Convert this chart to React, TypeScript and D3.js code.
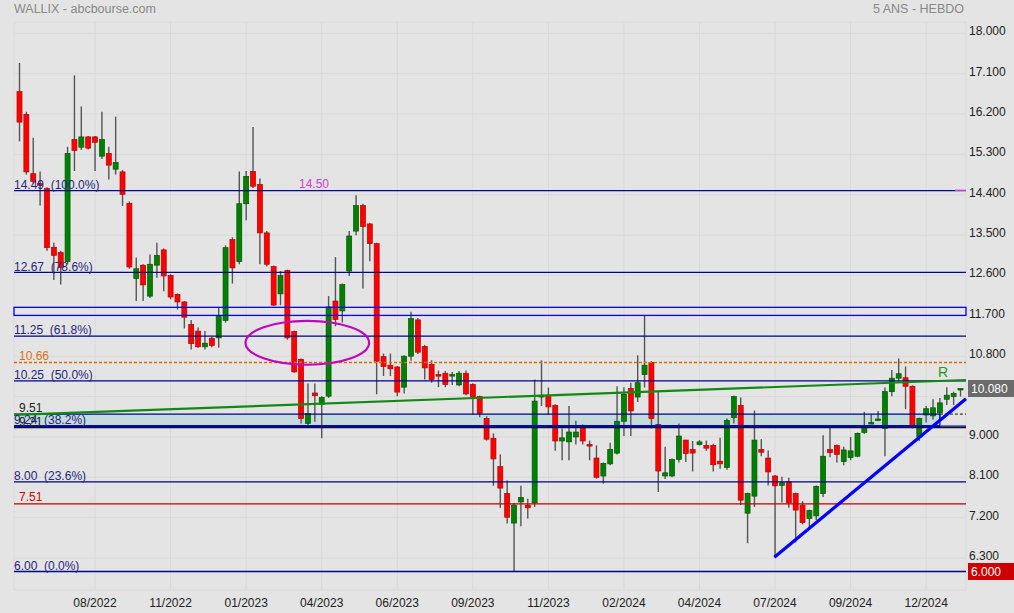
import React from 'react';
import * as d3 from 'd3';

const W = 1014;
const H = 613;

// weekly candles, mid-2022 -> end 2024
const opens = [
  16.70, 16.19, 14.87, 14.65, 14.54, 13.23, 13.11, 12.91, 15.63, 15.46,
  15.69, 15.69, 15.26, 15.32, 14.97, 14.91, 14.21, 12.53, 12.83, 12.14,
  12.83, 13.17, 12.60, 12.18, 12.01, 11.51, 11.36, 11.01, 11.20, 11.21,
  11.60, 13.40, 12.91, 14.20, 14.92, 14.63, 13.55, 12.80, 12.19, 12.71,
  11.35, 10.73, 9.30, 9.98, 9.73, 9.91, 12.03, 11.81, 12.70, 13.59,
  14.16, 13.75, 13.31, 10.79, 10.60, 10.56, 10.11, 10.80, 11.61, 11.02,
  10.62, 10.39, 10.42, 10.37, 10.16, 10.42, 10.17, 9.90, 9.41, 8.97,
  8.34, 7.74, 7.08, 7.55, 7.48, 7.53, 9.89, 9.90, 9.70, 8.91,
  8.89, 9.00, 9.26, 8.83, 8.53, 8.13, 8.40, 8.64, 9.35, 10.08,
  9.89, 10.39, 10.66, 9.28, 8.13, 8.13, 8.50, 8.93, 8.72, 8.83,
  8.81, 8.81, 8.46, 8.32, 9.43, 9.70, 7.30, 7.68, 8.72, 8.53,
  8.13, 7.92, 8.00, 7.74, 7.48, 7.18, 7.24, 7.74, 8.72, 8.81,
  8.45, 8.54, 8.57, 9.10, 9.31, 9.39, 9.19, 10.01, 10.31, 10.32,
  10.13, 9.00, 9.49, 9.47, 9.54, 9.84, 9.90, 10.05,
];
const highs = [
  17.34, 16.25, 15.67, 14.92, 14.57, 13.33, 13.15, 15.47, 17.06, 16.37,
  15.71, 15.71, 16.25, 15.47, 16.14, 14.95, 14.25, 13.00, 12.85, 13.07,
  13.33, 13.20, 12.63, 12.20, 12.03, 11.61, 11.44, 11.36, 11.23, 11.88,
  13.27, 13.45, 14.92, 14.93, 15.91, 14.76, 13.59, 12.82, 12.70, 12.73,
  11.37, 10.75, 10.19, 10.19, 9.91, 12.14, 13.01, 12.42, 13.59, 14.39,
  14.20, 13.77, 13.33, 10.86, 10.86, 10.58, 10.82, 11.79, 11.65, 11.05,
  10.71, 10.48, 10.47, 10.45, 10.47, 10.48, 10.20, 9.92, 9.46, 9.08,
  8.61, 8.03, 7.52, 7.91, 7.62, 10.28, 10.71, 10.10, 9.73, 9.19,
  9.69, 9.36, 9.28, 8.92, 8.81, 8.43, 8.87, 10.13, 10.11, 10.21,
  10.82, 11.71, 10.69, 10.02, 8.78, 8.52, 9.30, 8.94, 8.91, 8.93,
  8.92, 8.85, 8.98, 9.41, 9.92, 9.88, 7.76, 9.59, 8.95, 8.70,
  8.15, 8.11, 8.09, 7.76, 7.57, 7.38, 7.92, 9.04, 9.26, 8.83,
  8.78, 9.00, 9.10, 9.56, 9.50, 9.58, 10.10, 10.49, 10.75, 10.57,
  10.15, 9.43, 9.69, 9.84, 9.87, 10.11, 10.01, 10.08,
];
const lows = [
  15.59, 14.85, 14.65, 14.16, 13.15, 12.50, 12.40, 12.85, 14.93, 15.40,
  15.41, 14.93, 15.20, 14.74, 14.85, 14.15, 12.75, 12.03, 12.03, 12.10,
  12.55, 12.25, 12.07, 11.84, 11.42, 10.95, 10.99, 10.95, 11.00, 10.99,
  11.55, 12.42, 12.85, 13.83, 14.55, 12.85, 12.80, 11.92, 11.94, 11.17,
  10.43, 9.30, 9.25, 9.34, 8.97, 9.87, 11.47, 11.55, 12.59, 13.50,
  12.31, 12.92, 9.95, 10.36, 10.36, 9.91, 9.97, 10.70, 10.85, 10.28,
  10.21, 10.11, 10.11, 10.16, 10.13, 9.93, 9.50, 9.44, 8.92, 7.91,
  7.42, 7.07, 6.00, 7.01, 7.18, 7.44, 9.69, 9.49, 8.69, 8.48,
  8.48, 8.83, 8.83, 8.48, 8.07, 7.96, 8.37, 8.61, 9.02, 9.02,
  9.78, 10.10, 9.19, 7.77, 8.06, 8.10, 8.43, 8.44, 8.23, 8.81,
  8.69, 8.23, 8.29, 8.27, 9.30, 7.48, 6.63, 7.44, 8.57, 7.92,
  6.32, 7.54, 7.42, 6.65, 7.05, 6.94, 7.15, 7.66, 8.55, 8.43,
  8.37, 8.48, 8.55, 9.07, 9.30, 9.38, 8.57, 9.91, 10.23, 9.62,
  9.19, 8.91, 9.32, 9.39, 9.35, 9.71, 9.71, 9.90,
];
const closes = [
  16.02, 14.91, 14.70, 14.61, 13.22, 13.05, 12.78, 15.32, 15.39, 15.69,
  15.44, 15.57, 15.63, 15.06, 15.12, 14.41, 12.79, 12.75, 12.39, 12.85,
  13.05, 12.59, 12.12, 12.01, 11.67, 11.08, 11.01, 11.09, 11.04, 11.71,
  13.22, 12.77, 14.20, 14.81, 14.59, 13.55, 12.85, 11.94, 12.60, 11.21,
  10.45, 9.41, 9.52, 9.92, 9.88, 11.90, 11.62, 12.40, 13.48, 14.16,
  13.69, 13.31, 10.69, 10.57, 10.52, 10.00, 10.80, 11.64, 10.89, 10.54,
  10.28, 10.36, 10.17, 10.39, 10.42, 9.96, 9.89, 9.53, 8.95, 8.51,
  7.86, 7.21, 7.48, 7.65, 7.42, 9.80, 9.93, 9.67, 8.91, 8.98,
  9.11, 9.11, 8.91, 8.80, 8.10, 8.41, 8.72, 9.35, 9.95, 9.58,
  10.21, 10.60, 9.41, 8.24, 8.20, 8.50, 9.02, 8.63, 8.64, 8.89,
  8.75, 8.38, 8.40, 9.37, 9.90, 7.59, 7.74, 8.93, 8.66, 8.22,
  7.91, 7.98, 7.53, 7.37, 7.09, 7.36, 7.90, 8.57, 8.65, 8.61,
  8.71, 8.69, 9.08, 9.22, 9.32, 9.40, 10.01, 10.31, 10.41, 10.13,
  9.21, 9.41, 9.63, 9.65, 9.76, 9.93, 9.97, 10.08,
];

const xTickIndex = [11, 22, 33, 44, 55, 66, 77, 88, 99, 110, 121, 132];
const xTickLabels = ['08/2022', '11/2022', '01/2023', '04/2023', '06/2023', '09/2023',
  '11/2023', '02/2024', '04/2024', '07/2024', '09/2024', '12/2024'];
const yTicks = [18, 17.1, 16.2, 15.3, 14.4, 13.5, 12.6, 11.7, 10.8, 9.9, 9.0, 8.1, 7.2, 6.3];

const fibLevels = [14.49, 12.67, 11.25, 10.25, 9.24, 8.0, 6.0];
const fibPcts = ['100.0%', '78.6%', '61.8%', '50.0%', '38.2%', '23.6%', '0.0%'];

const zoneTop = 9.51;
const zoneBottom = 9.24;
const zoneEnd = 134.0;
const supportLow = 9.21;
const orangeLevel = 10.66;
const redLevel = 7.51;
const blueBand = [11.71, 11.89];
const magentaLevel = 14.5;
const greenTrend = [[-0.8, 9.49], [137.8, 10.27]];
const blueTrend = [[109.9, 6.32], [137.8, 9.85]];
const ellipseCenter = [41.9, 11.1];
const ellipseRadius = [9.0, 0.49];
const lastPrice = 10.08;
const lowPrice = 6.0;

const FONT = '"Liberation Sans", Arial, Helvetica, sans-serif';
const NAVY = '#00008b';
const NAVY_TXT = '#26267f';

export default function App() {
  const x = d3.scaleLinear().domain([-0.8, 137.8]).range([14, 966]);
  const y = d3.scaleLinear().domain([6, 18]).range([571.5, 33.3]);
  const left = 14, right = 966, top = 22, bottom = 590;
  const bw = 5;

  const line = d3.line<number[]>().x(d => x(d[0])).y(d => y(d[1]));

  const fmtLabel = (v: number) => v.toFixed(2);

  return (
    <svg width={W} height={H} style={{ position: 'absolute', left: 0, top: 0, display: 'block', fontFamily: FONT }}>
      <rect x={0} y={0} width={W} height={H} fill="#e4e4e4" />

      {/* grid */}
      <rect x={left} y={top} width={right - left} height={bottom - top} fill="none" stroke="#d9d9d9" />
      {yTicks.map(t => (
        <line key={'gy' + t} x1={left} x2={right} y1={y(t)} y2={y(t)} stroke="#d9d9d9" />
      ))}
      {xTickIndex.map(i => (
        <line key={'gx' + i} x1={x(i)} x2={x(i)} y1={top} y2={bottom} stroke="#d9d9d9" />
      ))}

      {/* shaded zone */}
      <rect x={left} y={y(zoneTop)} width={x(zoneEnd) - left} height={y(zoneBottom) - y(zoneTop)}
        fill="#c5dada" />

      {/* candles */}
      {opens.map((o, i) => {
        const c = closes[i];
        const up = c >= o;
        const cx = x(i);
        const yTop = y(Math.max(o, c));
        const hgt = Math.max(1.5, Math.abs(y(o) - y(c)));
        return (
          <g key={'c' + i}>
            <line x1={cx} x2={cx} y1={y(highs[i])} y2={y(lows[i])} stroke="#555" strokeWidth={1.4} />
            <rect x={cx - bw / 2} y={yTop} width={bw} height={hgt}
              fill={up ? '#008000' : '#ff0000'} stroke={up ? '#005a00' : '#b80000'} strokeWidth={0.7} />
          </g>
        );
      })}

      {/* horizontal levels */}
      <rect x={left} y={y(blueBand[1])} width={right - left} height={y(blueBand[0]) - y(blueBand[1])}
        fill="none" stroke="#0000ff" strokeWidth={1.3} />
      {fibLevels.map(v => (
        <line key={'f' + v} x1={left} x2={right} y1={y(v)} y2={y(v)} stroke={NAVY} strokeWidth={1.3} />
      ))}
      <line x1={left} x2={x(zoneEnd)} y1={y(zoneTop)} y2={y(zoneTop)} stroke={NAVY} strokeWidth={1.2} />
      <line x1={x(zoneEnd)} x2={right} y1={y(zoneTop)} y2={y(zoneTop)} stroke="#111" strokeWidth={1} strokeDasharray="3,2" />
      <line x1={x(zoneEnd)} x2={x(zoneEnd)} y1={y(zoneTop)} y2={y(zoneBottom)} stroke="#0000ff" strokeWidth={1.2} />
      <line x1={left} x2={x(zoneEnd)} y1={y(zoneBottom)} y2={y(zoneBottom)} stroke="#0000cc" strokeWidth={2.6} />
      <line x1={left} x2={right} y1={y(supportLow)} y2={y(supportLow)} stroke="#111" strokeWidth={1.2} />
      <line x1={left} x2={right} y1={y(orangeLevel)} y2={y(orangeLevel)} stroke="#e06a00" strokeWidth={1.5} strokeDasharray="3,2" />
      <line x1={left} x2={right} y1={y(redLevel)} y2={y(redLevel)} stroke="#c00000" strokeWidth={1.3} />
      <line x1={x(136.2)} x2={right} y1={y(magentaLevel)} y2={y(magentaLevel)} stroke="#e040e0" strokeWidth={1.3} />

      {/* trend lines */}
      <path d={line(greenTrend) || ''} stroke="#128a12" strokeWidth={2.2} fill="none" />
      <path d={line(blueTrend) || ''} stroke="#0000ff" strokeWidth={3.2} fill="none" />
      <ellipse cx={x(ellipseCenter[0])} cy={y(ellipseCenter[1])}
        rx={x(ellipseCenter[0] + ellipseRadius[0]) - x(ellipseCenter[0])}
        ry={y(ellipseCenter[1] - ellipseRadius[1]) - y(ellipseCenter[1])}
        fill="none" stroke="#c400c4" strokeWidth={2.2} />

      {/* level labels */}
      {fibLevels.map((v, i) => (
        <text key={'fl' + v} x={left} y={y(v) - 1.8} fontSize={12} fill={NAVY_TXT} style={{ whiteSpace: 'pre' }}>
          {`${fmtLabel(v)}  (${fibPcts[i]})`}
        </text>
      ))}
      <text x={19} y={y(supportLow) - 2} fontSize={12} fill="#222">{fmtLabel(supportLow)}</text>
      <text x={19} y={y(zoneTop) - 2.5} fontSize={12} fill="#222">{fmtLabel(zoneTop)}</text>
      <text x={19} y={y(orangeLevel) - 2.5} fontSize={12} fill="#d9730d">{fmtLabel(orangeLevel)}</text>
      <text x={19} y={y(redLevel) - 2.5} fontSize={12} fill="#cc0000">{fmtLabel(redLevel)}</text>
      <text x={299} y={y(magentaLevel) - 2.5} fontSize={12} fill="#d040d0">{fmtLabel(magentaLevel)}</text>
      <text x={938} y={y(10.27) - 3} fontSize={14} fill="#1f9a1f">R</text>

      {/* title */}
      <text x={14} y={13} fontSize={12.5} fill="#888">WALLIX - abcbourse.com</text>
      <text x={964} y={13} fontSize={12.5} fill="#888" textAnchor="end">5 ANS - HEBDO</text>

      {/* right axis */}
      {yTicks.filter(t => Math.abs(t - 9.9) > 0.01).map(t => (
        <text key={'yl' + t} x={969} y={y(t) - 2.3} dy="0.35em" fontSize={12} fill="#222">{t.toFixed(3)}</text>
      ))}
      <rect x={968} y={y(lastPrice) - 8.5} width={46} height={17} fill="#6a6a6a" />
      <text x={971} y={y(lastPrice)} dy="0.35em" fontSize={12} fill="#fff">{lastPrice.toFixed(3)}</text>
      <rect x={968} y={y(lowPrice) - 8.5} width={46} height={17} fill="#cc0000" />
      <text x={971} y={y(lowPrice)} dy="0.35em" fontSize={12} fill="#fff">{lowPrice.toFixed(3)}</text>

      {/* bottom axis */}
      {xTickIndex.map((i, k) => (
        <text key={'xl' + i} x={x(i)} y={607} fontSize={12} fill="#222" textAnchor="middle">{xTickLabels[k]}</text>
      ))}
    </svg>
  );
}
